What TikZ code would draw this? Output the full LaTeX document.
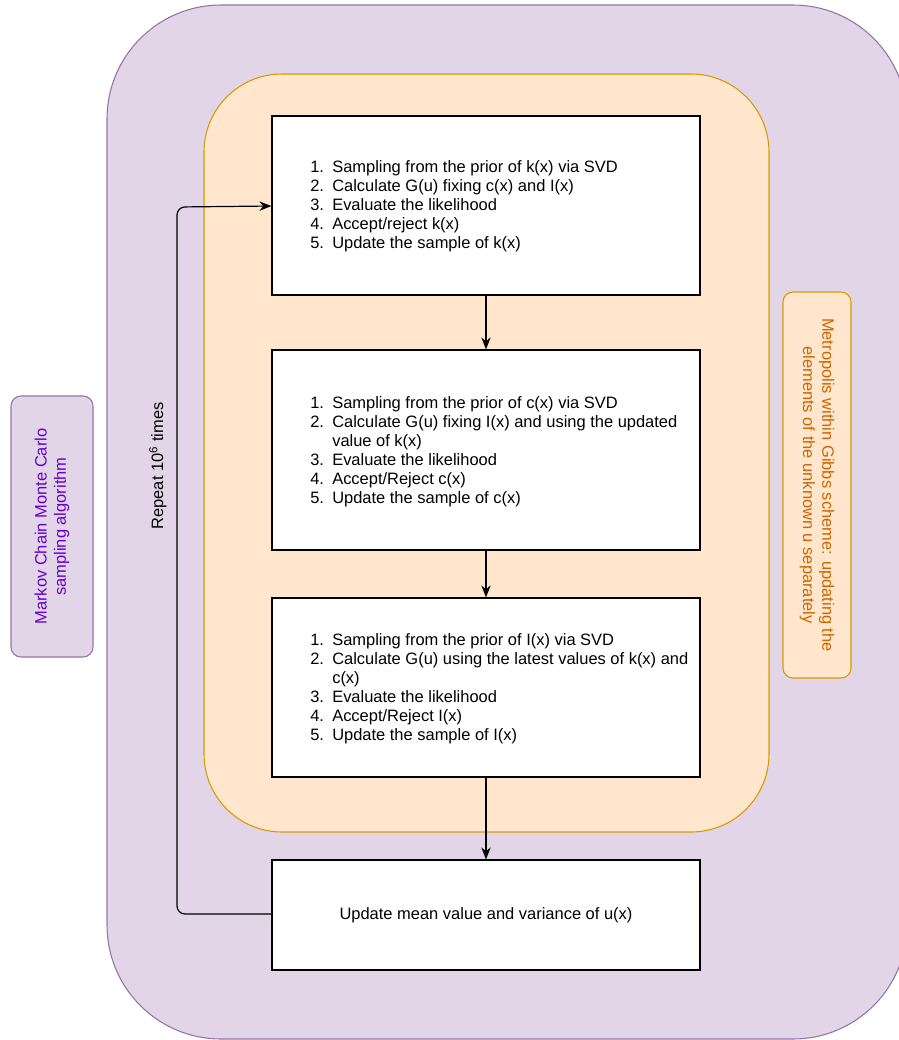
\documentclass[tikz,border=0pt]{standalone}
\usepackage{fontspec}
\setmainfont{Liberation Sans}
\usetikzlibrary{arrows.meta}
\definecolor{pfill}{HTML}{E1D5E7}
\definecolor{pdraw}{HTML}{9673A6}
\definecolor{ofill}{HTML}{FFE6CC}
\definecolor{odraw}{HTML}{D79B00}
\definecolor{ptext}{HTML}{6600CC}
\definecolor{otext}{HTML}{CC6600}
\tikzset{
  stepbox/.style={draw=black, fill=white, line width=0.9pt},
  listtext/.style={anchor=west, inner sep=0pt, font=\fontsize{12.35pt}{14.3pt}\selectfont},
  conn/.style={line width=0.9pt, -{Stealth[length=9pt,width=7pt]}},
  lbl/.style={font=\fontsize{12.35pt}{14.3pt}\selectfont, align=center, inner sep=0pt}
}
\newcommand{\steplist}[1]{\begin{tabular}{@{}r@{\hspace{6.2pt}}l@{}}#1\end{tabular}}
\begin{document}
\begin{tikzpicture}[x=0.75pt,y=-0.75pt]
\useasboundingbox (0,0) rectangle (899,1040);
\clip (0,0) rectangle (899,1040);
% outer purple container
\draw[fill=pfill, draw=pdraw, line width=0.8pt, rounded corners=85.5pt] (107,5) rectangle (907,1039);
% orange container
\draw[fill=ofill, draw=odraw, line width=0.8pt, rounded corners=58.5pt] (204,74) rectangle (769,832);
% side labels
\node[draw=pdraw, fill=pfill, line width=0.8pt, rounded corners=7.5pt, minimum width=61.5pt, minimum height=195.75pt, inner sep=0pt] (mcmcbox) at (52,526.5) {};
\node[lbl, text=ptext, rotate=90] (mcmc) at (mcmcbox.center) {Markov Chain Monte Carlo\\sampling algorithm};
\node[draw=odraw, fill=ofill, line width=0.8pt, rounded corners=7.5pt, minimum width=51pt, minimum height=289.5pt, inner sep=0pt] (mwgbox) at (817,485) {};
\node[lbl, text=otext, rotate=-90] (mwg) at (mwgbox.center) {Metropolis within Gibbs scheme: updating the\\elements of the unknown u separately};
% step boxes
\node[stepbox, minimum width=321pt, minimum height=134.25pt, inner sep=0pt] (b1) at (486,205.5) {};
\node[stepbox, minimum width=321pt, minimum height=150pt, inner sep=0pt] (b2) at (486,450) {};
\node[stepbox, minimum width=321pt, minimum height=134.25pt, inner sep=0pt] (b3) at (486,687.5) {};
\node[stepbox, minimum width=321pt, minimum height=82.5pt, inner sep=0pt] (b4) at (486,915) {};
\node[listtext] (t1) at (310,206.5) {\steplist{
1. & Sampling from the prior of k(x) via SVD\\
2. & Calculate G(u) fixing c(x) and I(x)\\
3. & Evaluate the likelihood\\
4. & Accept/reject k(x)\\
5. & Update the sample of k(x)}};
\node[listtext] (t2) at (310,452) {\steplist{
1. & Sampling from the prior of c(x) via SVD\\
2. & Calculate G(u) fixing I(x) and using the updated\\
   & value of k(x)\\
3. & Evaluate the likelihood\\
4. & Accept/Reject c(x)\\
5. & Update the sample of c(x)}};
\node[listtext] (t3) at (310,689.5) {\steplist{
1. & Sampling from the prior of I(x) via SVD\\
2. & Calculate G(u) using the latest values of k(x) and\\
   & c(x)\\
3. & Evaluate the likelihood\\
4. & Accept/Reject I(x)\\
5. & Update the sample of I(x)}};
\node[lbl] (t4) at (486,915) {Update mean value and variance of u(x)};
% connectors
\draw[conn] (b1.south) -- (b2.north);
\draw[conn] (b2.south) -- (b3.north);
\draw[conn] (b3.south) -- (b4.north);
\coordinate (lb) at (177,914);
\coordinate (lt) at (177,207);
\draw[conn, rounded corners=6pt] (b4.west |- 0,914) -- (lb) -- (lt) -- (b1.west |- 0,206);
\node[lbl, rotate=90] (rep) at (158,466) {Repeat 10\textsuperscript{6} times};
\end{tikzpicture}
\end{document}
